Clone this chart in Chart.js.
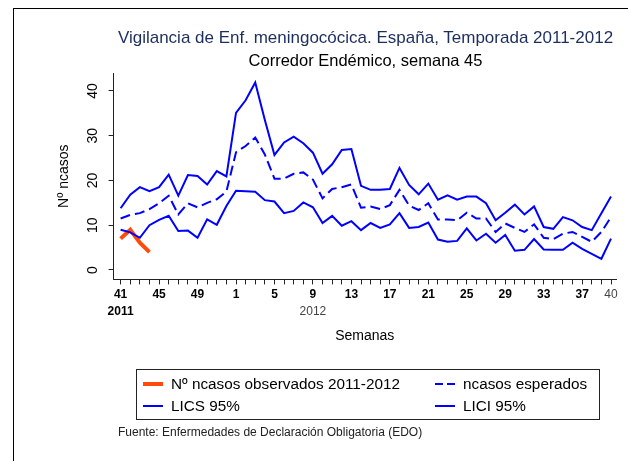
<!DOCTYPE html>
<html><head><meta charset="utf-8">
<script src="https://cdn.jsdelivr.net/npm/chart.js@4/dist/chart.umd.min.js"></script>
<style>
html,body{margin:0;padding:0;background:#fff;}
body{width:628px;height:461px;position:relative;overflow:hidden;font-family:"Liberation Sans",Arial,sans-serif;}
#frame{position:absolute;left:13px;top:8px;width:640px;height:480px;border-left:1px solid #000;border-top:1px solid #000;}
#wrap{position:absolute;left:0;top:0;width:628px;height:461px;}
.t{position:absolute;white-space:nowrap;text-align:center;}
#title{left:117px;width:497px;top:27px;font-size:17px;color:#1c2e5e;line-height:22px;}
#sub{left:117px;width:497px;top:49px;font-size:16.5px;color:#000;line-height:22px;}
#legend{position:absolute;left:136px;top:369px;width:462px;height:49px;border:1px solid #222;}
.li{position:absolute;font-size:15.3px;line-height:18px;color:#000;white-space:nowrap;}
.sw{position:absolute;height:0;}
#foot{position:absolute;left:118px;top:425px;font-size:12px;color:#222;white-space:nowrap;}
</style></head>
<body>
<div id="frame"></div>
<div id="wrap"><canvas id="c" width="628" height="461"></canvas></div>
<div class="t" id="title"></div>
<div class="t" id="sub"></div>
<div id="legend"></div>
<div id="foot"></div>
<script>
// ---- data ----
const weeks = [41,42,43,44,45,46,47,48,49,50,51,52,1,2,3,4,5,6,7,8,9,10,11,12,13,14,15,16,17,18,19,20,21,22,23,24,25,26,27,28,29,30,31,32,33,34,35,36,37,38,39,40];
const observed = [7.0,9.0,6.1,4.0];
const expected = [11.5,12.3,12.7,13.6,14.9,16.6,12.4,14.9,14.0,15.0,15.8,17.5,26.3,27.7,29.6,25.8,20.4,20.4,21.5,21.8,20.2,16.0,18.1,18.5,19.1,13.9,14.2,13.6,14.5,17.9,14.4,13.4,14.9,11.3,11.3,11.1,12.8,11.5,11.5,8.5,10.4,9.4,8.5,10.2,7.2,6.9,8.1,8.5,7.4,6.3,8.5,11.8];
const lics = [13.8,16.8,18.5,17.6,18.5,21.3,16.6,21.2,21.0,19.1,22.1,20.9,35.1,37.9,41.9,33.5,25.7,28.5,29.8,28.3,26.2,21.5,23.6,26.8,27.0,18.8,17.9,17.9,18.1,22.8,19.0,16.9,19.3,15.7,16.7,15.7,16.4,16.4,14.9,11.1,12.8,14.6,12.4,14.2,9.6,9.2,11.8,11.1,9.6,8.9,12.7,16.4];
const lici = [9.0,8.4,7.2,10.0,11.2,12.1,8.7,8.8,7.2,11.3,10.1,14.3,17.7,17.6,17.5,15.6,15.3,12.7,13.2,15.1,14.0,10.5,12.1,9.9,10.9,8.9,10.5,9.4,10.2,12.7,9.4,9.6,10.6,6.8,6.3,6.5,9.3,6.6,8.1,6.1,7.8,4.3,4.5,6.9,4.6,4.5,4.5,6.1,4.7,3.6,2.5,7.0];
const yTicks = [0,10,20,30,40];
const labelStep = 4;
const yearIndex = [0,20];
const yearLabels = ['2011','2012'];
const seriesNames = ['Nº ncasos observados 2011-2012','ncasos esperados','LICS 95%','LICI 95%'];
const titleText = 'Vigilancia de Enf. meningocócica. España, Temporada 2011-2012';
const subText = 'Corredor Endémico, semana 45';
const xTitle = 'Semanas';
const yTitle = 'Nº ncasos';
const footText = 'Fuente: Enfermedades de Declaración Obligatoria (EDO)';

document.getElementById('title').textContent = titleText;
document.getElementById('sub').textContent = subText;
document.getElementById('foot').textContent = footText;

const BLUE = '#0000ff', ORANGE = '#ff4a0a';
const toPts = arr => arr.map((v,i)=>({x:i,y:v}));
const lastIdx = weeks.length-1;

// legend (HTML)
const leg = document.getElementById('legend');
const legItems = [
  {name:seriesNames[0], x:6, y:5, color:ORANGE, w:4, dash:false},
  {name:seriesNames[1], x:298, y:5, color:BLUE, w:2, dash:true},
  {name:seriesNames[2], x:6, y:27, color:BLUE, w:2, dash:false},
  {name:seriesNames[3], x:298, y:27, color:BLUE, w:2, dash:false}
];
legItems.forEach(it=>{
  const segs = it.dash ? [[0,8],[12,8]] : [[0,20]];
  segs.forEach(([off,len])=>{
    const s = document.createElement('div');
    s.className='sw';
    s.style.left = (it.x+off)+'px'; s.style.top = (it.y+9-it.w/2)+'px';
    s.style.width = len+'px'; s.style.height = it.w+'px';
    s.style.background = it.color;
    leg.appendChild(s);
  });
  const t = document.createElement('div');
  t.className='li'; t.textContent = it.name;
  t.style.left=(it.x+28)+'px'; t.style.top=it.y+'px';
  leg.appendChild(t);
});

const FONT = '"Liberation Sans", Arial, sans-serif';
new Chart(document.getElementById('c'), {
  type:'line',
  data:{datasets:[
    {label:seriesNames[2], data:toPts(lics), borderColor:BLUE, borderWidth:2, pointRadius:0, tension:0, fill:false},
    {label:seriesNames[1], data:toPts(expected), borderColor:BLUE, borderWidth:2, borderDash:[10,5], pointRadius:0, tension:0, fill:false},
    {label:seriesNames[3], data:toPts(lici), borderColor:BLUE, borderWidth:2, pointRadius:0, tension:0, fill:false},
    {label:seriesNames[0], data:toPts(observed), borderColor:ORANGE, borderWidth:4, pointRadius:0, tension:0, fill:false}
  ]},
  options:{
    responsive:false, animation:false,
    layout:{padding:{left:56, right:12, top:73, bottom:116}},
    plugins:{legend:{display:false}, tooltip:{enabled:false}, title:{display:false}},
    scales:{
      x:{type:'linear', min:-0.73, max:51.52, position:'bottom', weight:0,
         afterBuildTicks: s => { s.ticks = weeks.map((w,i)=>({value:i})); },
         grid:{display:true, drawOnChartArea:false, drawTicks:true, tickLength:5, color:'#222'},
         border:{display:true, color:'#222', width:1},
         ticks:{autoSkip:false, maxRotation:0, minRotation:0, padding:3,
           color: c => c.index===lastIdx ? '#444' : '#000',
           font: c => ({family:FONT, size:12, weight: c.index===lastIdx ? 'normal' : 'bold'}),
           callback:(v,i)=> (i%labelStep===0 || i===lastIdx) ? String(weeks[i]) : ''}
      },
      x2:{type:'linear', min:-0.73, max:51.52, position:'bottom', weight:1,
         afterBuildTicks: s => { s.ticks = yearIndex.map(i=>({value:i})); },
         grid:{display:false, drawTicks:false}, border:{display:false},
         ticks:{autoSkip:false, maxRotation:0, minRotation:0, padding:0,
           color: c => c.index===0 ? '#000' : '#444',
           font: c => ({family:FONT, size:12, weight: c.index===0 ? 'bold' : 'normal'}),
           callback:(v,i)=> yearLabels[i]},
         title:{display:true, text:xTitle, color:'#000', font:{family:FONT, size:14}, padding:{top:9,bottom:0}}
      },
      y:{type:'linear', min:-2.1, max:44.0,
         afterBuildTicks: s => { s.ticks = yTicks.map(v=>({value:v})); },
         grid:{display:true, drawOnChartArea:false, drawTicks:true, tickLength:5, color:'#222'},
         border:{display:true, color:'#222', width:1},
         ticks:{minRotation:90, maxRotation:90, crossAlign:'center', padding:8, color:'#000',
           font:{family:FONT, size:14}, callback:v=>String(v)},
         title:{display:true, text:yTitle, color:'#000', font:{family:FONT, size:14}, padding:{top:0,bottom:3}}
      }
    }
  }
});
</script>
</body></html>
